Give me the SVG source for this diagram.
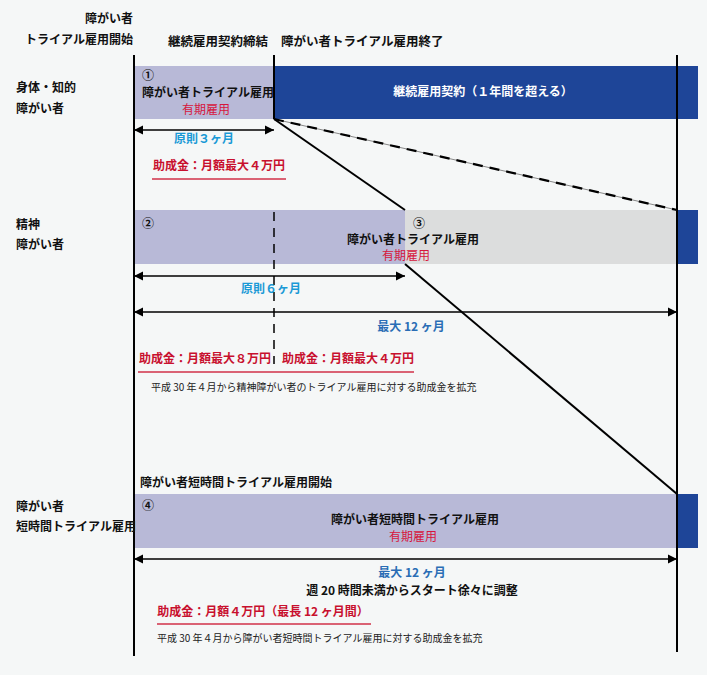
<svg xmlns="http://www.w3.org/2000/svg" width="707" height="675" viewBox="0 0 707 675">
<defs>
<marker id="ah" viewBox="0 0 10 10" refX="10" refY="5" markerWidth="9" markerHeight="10" markerUnits="userSpaceOnUse" orient="auto-start-reverse">
<path d="M0,0 L10,5 L0,10 z" fill="#000"/>
</marker>
<style>
text{font-family:"Noto Sans CJK JP","Noto Sans",sans-serif;}
.b{font-size:12px;font-weight:bold;fill:#111;}
.h{font-size:12.5px;font-weight:bold;fill:#111;}
.red{font-size:12px;fill:#d6163c;}
.redb{font-size:12px;font-weight:bold;fill:#c8102e;}
.cy{font-size:12px;font-weight:bold;fill:#1a9ad6;}
.bl{font-size:12px;font-weight:bold;fill:#2a6db5;}
.sm{font-size:10px;fill:#222;}
.wh{font-size:12px;font-weight:bold;fill:#fff;}
.lav{fill:#b8b9d7;}
.blu{fill:#1e4598;}
.gry{fill:#dcdddd;}
.ln{stroke:#000;stroke-width:2;fill:none;}
.arr{stroke:#000;stroke-width:1.5;fill:none;marker-start:url(#ah);marker-end:url(#ah);}
.ul{stroke:#d03048;stroke-width:1.5;}
</style>
</defs>
<rect width="707" height="675" fill="#f5f7f7"/>

<g id="bars">
<rect id="bar1a" class="lav" x="134" y="66" width="140" height="53"/>
<rect id="bar1b" class="blu" x="274" y="66" width="424" height="53"/>
<rect id="bar2a" class="lav" x="134" y="210" width="271" height="54"/>
<rect id="bar2b" class="gry" x="405" y="210" width="272" height="54"/>
<rect id="bar2c" class="blu" x="677" y="210" width="21" height="54"/>
<rect id="bar4a" class="lav" x="134" y="494" width="543" height="54"/>
<rect id="bar4b" class="blu" x="677" y="494" width="21" height="54"/>
</g>

<g id="connectors">
<line class="ln" x1="134" y1="55" x2="134" y2="656"/>
<line class="ln" x1="274" y1="55" x2="274" y2="119"/>
<line class="ln" x1="677" y1="55" x2="677" y2="652"/>
<line stroke="#000" stroke-width="1.5" stroke-dasharray="9,7" x1="274" y1="212" x2="274" y2="364"/>
<line stroke="#888" stroke-width="1" x1="274" y1="119" x2="677" y2="210"/>
<line stroke="#000" stroke-width="2.2" stroke-dasharray="10,7" x1="274" y1="119" x2="677" y2="210"/>
<line class="ln" x1="274" y1="119" x2="405" y2="210"/>
<line class="ln" x1="405" y1="264" x2="677" y2="494"/>
<line class="arr" x1="134" y1="130" x2="274" y2="130"/>
<line class="arr" x1="134" y1="276" x2="405" y2="276"/>
<line class="arr" x1="134" y1="312" x2="677" y2="312"/>
<line class="arr" x1="134" y1="559" x2="677" y2="559"/>
<line class="ul" x1="152" y1="179" x2="286" y2="179"/>
<line class="ul" x1="138" y1="372" x2="414" y2="372"/>
<line class="ul" x1="157" y1="624" x2="371" y2="624"/>
</g>

<g id="header">
<text class="b" x="133" y="23" text-anchor="end">障がい者</text>
<text class="b" x="133" y="44" text-anchor="end">トライアル雇用開始</text>
<text class="h" x="268" y="46" text-anchor="end">継続雇用契約締結</text>
<text class="h" x="281" y="46">障がい者トライアル雇用終了</text>
</g>

<g id="row1">
<text class="b" x="16" y="92">身体・知的</text>
<text class="b" x="16" y="113">障がい者</text>
<text class="b" x="142" y="80">①</text>
<text class="b" x="142" y="97">障がい者トライアル雇用</text>
<text class="red" x="206" y="114" text-anchor="middle">有期雇用</text>
<text class="wh" x="483" y="96" text-anchor="middle">継続雇用契約（１年間を超える）</text>
<text class="cy" x="204" y="143" text-anchor="middle">原則３ヶ月</text>
<text class="redb" x="219" y="170" text-anchor="middle">助成金：月額最大４万円</text>
</g>

<g id="row2">
<text class="b" x="16" y="229">精神</text>
<text class="b" x="16" y="249">障がい者</text>
<text class="b" x="142" y="228">②</text>
<text class="b" x="413" y="228">③</text>
<text class="b" x="413" y="244" text-anchor="middle">障がい者トライアル雇用</text>
<text class="red" x="406" y="260" text-anchor="middle">有期雇用</text>
<text class="cy" x="271" y="293" text-anchor="middle">原則６ヶ月</text>
<text class="bl" x="411" y="331" text-anchor="middle">最大 12 ヶ月</text>
<text class="redb" x="205" y="363" text-anchor="middle">助成金：月額最大８万円</text>
<text class="redb" x="348" y="363" text-anchor="middle">助成金：月額最大４万円</text>
<text class="sm" x="151" y="391">平成 30 年４月から精神障がい者のトライアル雇用に対する助成金を拡充</text>
</g>

<g id="row4">
<text class="b" x="140" y="487">障がい者短時間トライアル雇用開始</text>
<text class="b" x="16" y="511">障がい者</text>
<text class="b" x="16" y="531">短時間トライアル雇用</text>
<text class="b" x="142" y="510">④</text>
<text class="b" x="415" y="524" text-anchor="middle">障がい者短時間トライアル雇用</text>
<text class="red" x="413" y="541" text-anchor="middle">有期雇用</text>
<text class="bl" x="412" y="577" text-anchor="middle">最大 12 ヶ月</text>
<text class="b" x="412" y="595" text-anchor="middle">週 20 時間未満からスタート徐々に調整</text>
<text class="redb" x="263" y="616" text-anchor="middle">助成金：月額４万円（最長 12 ヶ月間）</text>
<text class="sm" x="157" y="642">平成 30 年４月から障がい者短時間トライアル雇用に対する助成金を拡充</text>
</g>
</svg>
